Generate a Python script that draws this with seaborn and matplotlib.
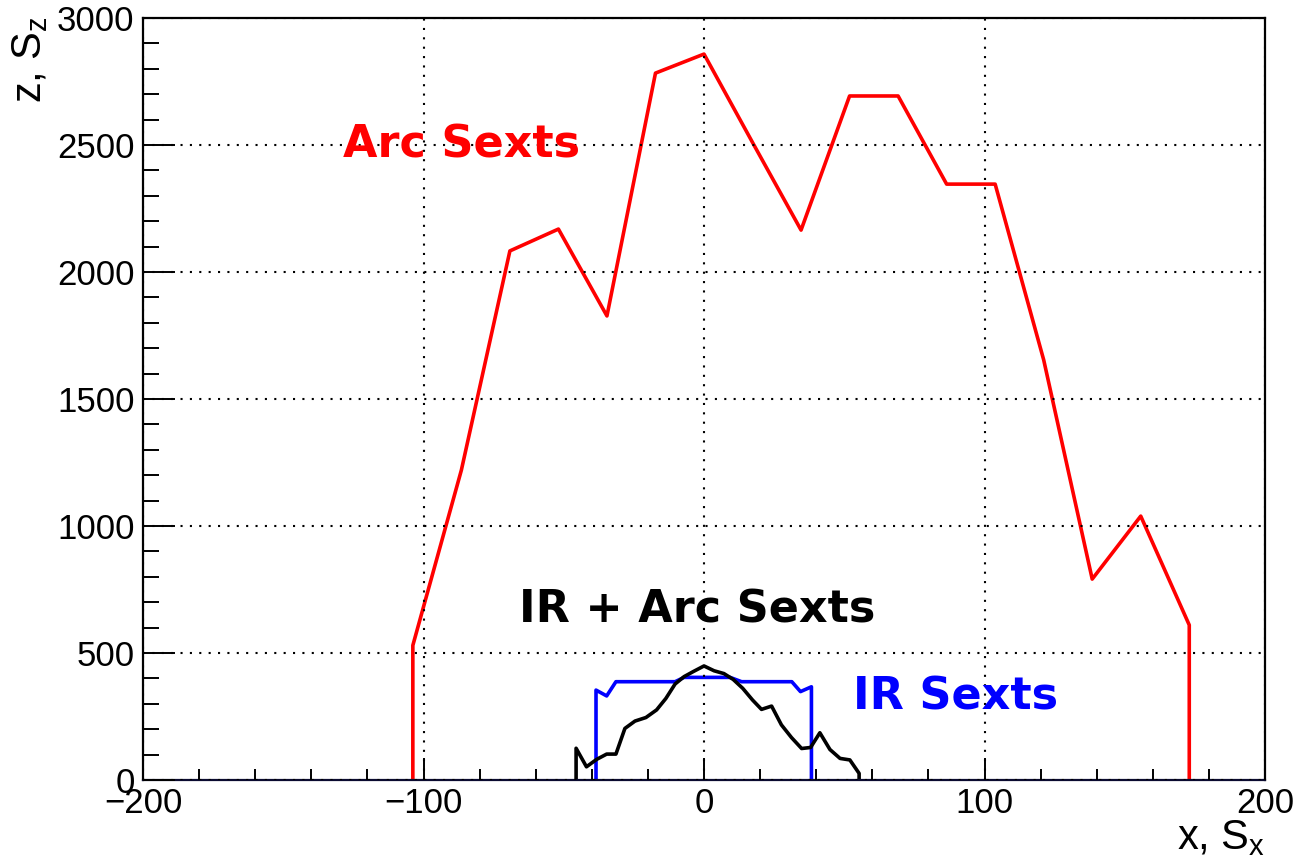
import numpy as np
import pandas as pd
import matplotlib
matplotlib.use("Agg")
import matplotlib.pyplot as plt
from matplotlib.ticker import MultipleLocator
import seaborn as sns

# Arc sextupoles only
arc_x = [-103.8, -103.8, -86.5, -69.2, -51.9, -34.6, -17.3, 0.0, 17.3, 34.6,
         51.9, 69.2, 86.5, 103.8, 121.1, 138.4, 155.7, 173.0, 173.0]
arc_z = [0, 530, 1220, 2083, 2169, 1827, 2783, 2858, 2510, 2165,
         2693, 2693, 2346, 2346, 1654, 791, 1039, 610, 0]

# IR sextupoles only
ir_x = [-38.5, -38.5, -34.7, -31.4, -10.3, -7.1, 9.3, 13.4, 31.3, 34.4, 38.3, 38.3]
ir_z = [0, 354, 331, 387, 387, 404, 404, 387, 387, 348, 367, 0]

# IR + arc sextupoles
both_x = [-45.6, -45.6, -41.9, -38.3, -34.7, -31.4, -28.2, -24.6, -20.7, -16.9,
          -13.6, -10.3, -7.1, -3.8, 0.0, 3.6, 7.1, 10.4, 13.8, 17.3, 20.5,
          24.1, 27.6, 31.2, 34.8, 38.0, 41.3, 44.9, 48.5, 52.0, 55.3, 55.3]
both_z = [0, 125, 52, 81, 102, 102, 203, 232, 246, 276,
          321, 378, 407, 427, 449, 430, 419, 396, 361, 315, 278,
          291, 217, 167, 124, 128, 186, 120, 85, 79, 26, 0]

sns.set_style("white")
plt.rcParams["font.family"] = ["Liberation Sans", "DejaVu Sans"]
plt.rcParams["mathtext.fontset"] = "custom"
plt.rcParams["mathtext.rm"] = "Liberation Sans"
plt.rcParams["mathtext.it"] = "Liberation Sans"
plt.rcParams["text.color"] = "black"
plt.rcParams["xtick.color"] = "black"
plt.rcParams["ytick.color"] = "black"
plt.rcParams["xtick.labelcolor"] = "black"
plt.rcParams["ytick.labelcolor"] = "black"

fig = plt.figure(figsize=(12.97, 8.58), dpi=100)
ax = fig.add_axes([143 / 1297, 78 / 858, 1122 / 1297, 762 / 858])

lw = 2.6
for xs, zs, col in [(arc_x, arc_z, "#ff0000"),
                    (ir_x, ir_z, "#0000ff"),
                    (both_x, both_z, "#000000")]:
    df = pd.DataFrame({"x": xs, "z": zs})
    sns.lineplot(data=df, x="x", y="z", sort=False, estimator=None,
                 color=col, lw=lw, ax=ax)

ax.set_xlim(-200, 200)
ax.set_ylim(0, 3000)
ax.set_xlabel("")
ax.set_ylabel("")

ax.xaxis.set_major_locator(MultipleLocator(100))
ax.xaxis.set_minor_locator(MultipleLocator(20))
ax.yaxis.set_major_locator(MultipleLocator(500))
ax.yaxis.set_minor_locator(MultipleLocator(100))

ax.tick_params(axis="x", which="major", direction="in", length=15.8, width=1.4,
               labelsize=25, pad=5, top=False, bottom=True, colors="black")
ax.tick_params(axis="x", which="minor", direction="in", length=7.9, width=1.4,
               top=False, bottom=True, colors="black")
ax.tick_params(axis="y", which="major", direction="in", length=23, width=1.4,
               labelsize=25, pad=6, right=False, left=True, colors="black")
ax.tick_params(axis="y", which="minor", direction="in", length=11.5, width=1.4,
               right=False, left=True, colors="black")
ax.set_xticks([-200, -100, 0, 100, 200])
ax.set_xticklabels(["\u2212200", "\u2212100", "0", "100", "200"])

ax.grid(True, which="major", color="black", linestyle=(0, (1, 3.5)), lw=1.5)
ax.set_axisbelow(False)
for side in ["left", "right", "top", "bottom"]:
    ax.spines[side].set_visible(True)
    ax.spines[side].set_linewidth(1.6)
    ax.spines[side].set_color("black")
ax.spines["bottom"].set_color("#0b0b30")

lab = dict(fontfamily="DejaVu Sans", fontweight="bold", fontsize=32,
           va="center", ha="left")
ax.text(-128.7, 2500, "Arc Sexts", color="#ff0000", **lab)
ax.text(-66.0, 669, "IR + Arc Sexts", color="#000000", **lab)
ax.text(53.0, 327, "IR Sexts", color="#0000ff", **lab)

fig.text(1265 / 1297, 1 - 838 / 858, r"x, $S_{x}$", fontsize=30,
         ha="right", va="center", color="black")
fig.text(30 / 1297, 1 - 16 / 858, r"z, $S_{z}$", fontsize=30,
         rotation=90, ha="center", va="top", color="black")

fig.savefig("out.png", dpi=100)
